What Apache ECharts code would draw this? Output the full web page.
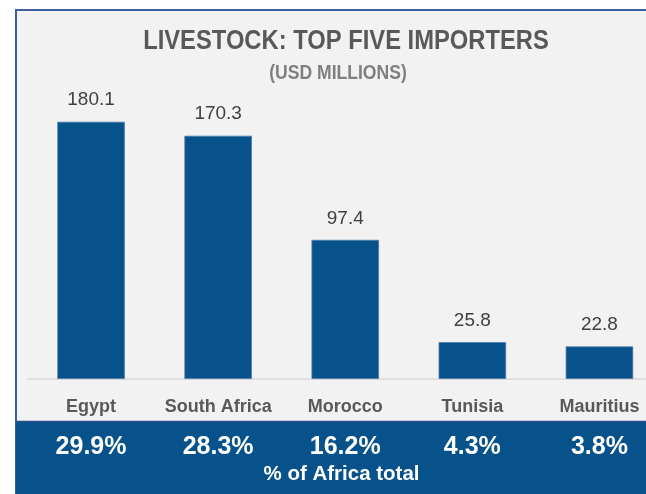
<!DOCTYPE html>
<html>
<head>
<meta charset="utf-8">
<script src="https://cdn.jsdelivr.net/npm/echarts@6/dist/echarts.min.js"></script>
<style>
  html, body { margin: 0; padding: 0; background: #ffffff; overflow: hidden; }
  /* the panel runs past the right edge of the window */
  #chart { width: 680px; height: 494px; }
</style>
</head>
<body>
<div id="chart"></div>
<script>
// Livestock imports, top five African importers (USD millions)
const categories = ['Egypt', 'South Africa', 'Morocco', 'Tunisia', 'Mauritius'];
const importValues = [180.1, 170.3, 97.4, 25.8, 22.8];
const shareOfAfrica = ['29.9%', '28.3%', '16.2%', '4.3%', '3.8%'];

const FONT = '"Liberation Sans", Arial, sans-serif';
const BLUE = '#07528a';

const chart = echarts.init(document.getElementById('chart'), null, { renderer: 'canvas' });

chart.setOption({
  backgroundColor: '#ffffff',
  animation: false,
  graphic: [
    // panel with framed border
    {
      type: 'rect', z: -10, silent: true,
      shape: { x: 16, y: 10, width: 720, height: 600 },
      style: { fill: '#f2f2f2', stroke: '#3d5f9e', lineWidth: 2 }
    },
    // share band along the bottom
    {
      type: 'rect', z: -5, silent: true,
      shape: { x: 16, y: 421, width: 720, height: 120 },
      style: { fill: BLUE }
    },
    {
      type: 'line', z: -4, silent: true,
      shape: { x1: 16, y1: 421.5, x2: 720, y2: 421.5 },
      style: { stroke: '#2f4f8f', lineWidth: 1.5 }
    },
    {
      type: 'text', silent: true,
      x: 346, y: 42, scaleX: 0.88,
      style: {
        text: 'LIVESTOCK: TOP FIVE IMPORTERS',
        font: 'bold 27px ' + FONT,
        fill: '#595959', align: 'center', verticalAlign: 'middle'
      }
    },
    {
      type: 'text', silent: true,
      x: 338, y: 73.5, scaleX: 0.9,
      style: {
        text: '(USD MILLIONS)',
        font: 'bold 19.5px ' + FONT,
        fill: '#7f7f7f', align: 'center', verticalAlign: 'middle'
      }
    },
    {
      type: 'text', silent: true,
      x: 341.5, y: 474,
      style: {
        text: '% of Africa total',
        font: 'bold 20.5px ' + FONT,
        fill: '#ffffff', align: 'center', verticalAlign: 'middle'
      }
    }
  ],
  grid: { left: 27.5, top: 93.3, width: 635.5, height: 285.7, containLabel: false },
  xAxis: [
    {
      type: 'category',
      data: categories,
      position: 'bottom',
      axisLine: { show: true, lineStyle: { color: '#d9d9d9', width: 1.5 } },
      axisTick: { show: false },
      axisLabel: {
        interval: 0, margin: 19,
        fontFamily: FONT, fontSize: 18, fontWeight: 'bold', color: '#595959'
      }
    },
    {
      type: 'category',
      data: shareOfAfrica,
      position: 'bottom',
      axisLine: { show: false },
      axisTick: { show: false },
      axisLabel: {
        interval: 0, margin: 56,
        fontFamily: FONT, fontSize: 25, fontWeight: 'bold', color: '#ffffff'
      }
    }
  ],
  yAxis: {
    type: 'value', min: 0, max: 200,
    show: false,
    splitLine: { show: false }
  },
  series: [{
    type: 'bar',
    data: importValues,
    barWidth: 67.5,
    itemStyle: { color: BLUE, borderColor: '#4a7aab', borderWidth: 0.8 },
    label: {
      show: true, position: 'top', distance: 12,
      fontFamily: FONT, fontSize: 19, color: '#404040',
      formatter: p => p.value.toFixed(1)
    }
  }]
});
</script>
</body>
</html>
